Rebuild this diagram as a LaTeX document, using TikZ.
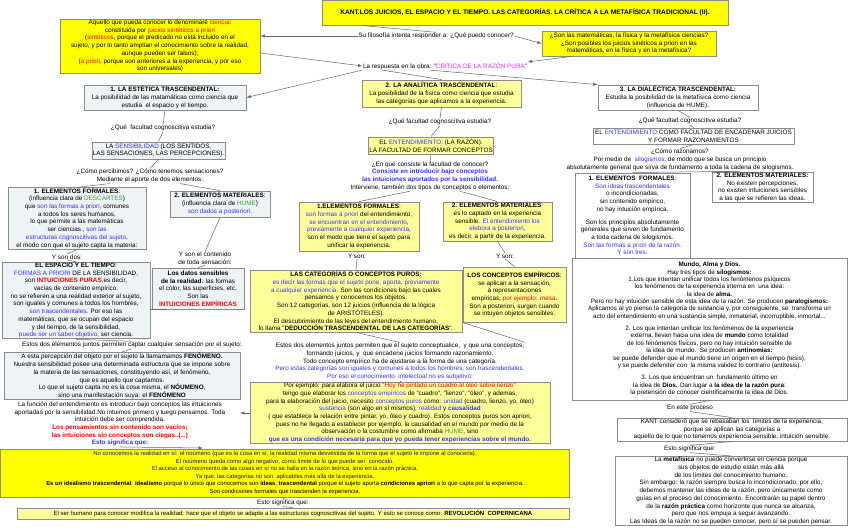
\documentclass[tikz,border=0pt]{standalone}
\usepackage{fontspec}
\setmainfont{Liberation Sans}
\definecolor{myblue}{HTML}{3333FF}
\definecolor{mynavy}{HTML}{1A1A8C}
\definecolor{myred}{HTML}{FF0000}
\definecolor{mygreen}{HTML}{33A033}
\definecolor{mymag}{HTML}{FF22FF}
\definecolor{ltblue}{HTML}{EEF3F6}
\definecolor{pale}{HTML}{FFFF99}
\definecolor{brt}{HTML}{FFFF00}
\newcommand\tb[1]{\textcolor{myblue}{#1}}
\newcommand\tr[1]{\textcolor{myred}{#1}}
\newcommand\tg[1]{\textcolor{mygreen}{#1}}
\newcommand\tm[1]{\textcolor{mymag}{#1}}
\newcommand\ft{\fontsize{6.35}{7.7}\selectfont}
\tikzset{
 box/.style={draw=gray!90, line width=0.9pt, inner sep=0.8pt, align=center, font=\ft},
 bbox/.style={box, fill=ltblue},
 ybox/.style={box, fill=pale},
 Ybox/.style={box, fill=brt},
 wbox/.style={box, fill=white},
 lbl/.style={align=center, inner sep=0.5pt, font=\ft},
 ln/.style={draw=gray!80!black, line width=0.5pt},
 ar/.style={ln, -latex}
}
\begin{document}
\begin{tikzpicture}[x=1pt,y=-1pt]
\useasboundingbox (0,0) rectangle (848,527);
\fill[white] (0,0) rectangle (848,527);

\node[Ybox, minimum width=406, minimum height=25, font=\fontsize{6.6}{8}\selectfont\bfseries] (title) at (525,12.5) {KANT.LOS JUICIOS, EL ESPACIO Y EL TIEMPO. LAS CATEGORÍAS. LA CRÍTICA A LA METAFÍSICA TRADICIONAL (II).};
\node[lbl] (su) at (436,36) {Su filosofía intenta responder a: ¿Qué puedo conocer?};
\node[Ybox, minimum width=200, minimum height=54] (A) at (160,46) {Aquello que pueda conocer lo denominaré \tr{ciencia}:\\ constituida por \tr{juicios sintéticos a priori}\\ (\tr{sintéticos}, porque el predicado no está incluido en el\\ sujeto, y por lo tanto amplían el conocimiento sobre la realidad,\\ aunque pueden ser falsos);\\ (\tr{a priori}, porque son anteriores a la experiencia, y por eso\\ son universales)};
\node[Ybox, minimum width=174, minimum height=25] (Q) at (629,43.5) {¿Son las matemáticas, la física y la metafísica ciencias?\\ ¿Son posibles los juicios sinéticos a priori en las\\ matemáticas, en la física y en la metafísica?};
\node[lbl] (resp) at (445,66) {La respuesta en la obra: "\tm{CRÍTICA DE LA RAZÓN PURA}"};

\node[bbox, minimum width=162, minimum height=25] (E1) at (165,97.5) {\textbf{1. LA ESTÉTICA TRASCENDENTAL:}\\ La posibilidad de las matamáticas como ciencia que\\ estudia\ \ el espacio y el tiempo.};
\node[ybox, minimum width=159, minimum height=27] (E2) at (441.5,93.5) {\textbf{2. LA ANALÍTICA TRASCENDENTAL}:\\ La posibilidad de la física como ciencia que estudia\\ las categorías que aplicamos a la experiencia.};
\node[wbox, minimum width=160, minimum height=25] (E3) at (678,97.5) {\textbf{3. LA DIALÉCTICA TRASCENDENTAL:}\\ Estudia la posibilidad de la metafísica como ciencia\\ (influencia de HUME).};

\node[lbl] (q1) at (163,128) {¿Qué\ \ facultad cognoscitiva estudia?};
\node[lbl] (q2) at (440,122) {¿Qué facultad cognoscitiva estudia?};
\node[lbl] (q3) at (690,121) {¿Qué facultad cognoscitiva estudia?};

\node[bbox, minimum width=133, minimum height=17] (sens) at (158.5,150.5) {LA \tb{SENSIBILIDAD} (LOS SENTIDOS,\\ LAS SENSACIONES, LAS PERCEPCIONES).};
\node[ybox, minimum width=125, minimum height=17] (ent) at (431,145.5) {EL \tb{ENTENDIMIENTO}: (LA RAZÓN).\\ LA FACULTAD DE FORMAR CONCEPTOS};
\node[wbox, minimum width=201, minimum height=16] (ent3) at (693.5,136) {EL \tb{ENTENDIMIENTO} COMO FACULTAD DE ENCADENAR JUICIOS\\ Y FORMAR RAZONAMIENTOS};

\node[lbl] (como) at (150,176) {¿Cómo percibimos? ¿Cómo tenemos sensaciones?\\ Mediante el aporte de dos elementos:};
\node[lbl] (enque) at (430,176) {¿En qué consiste la facultad de conocer?\\ \textcolor{myblue}{\bfseries Consiste en introducir bajo conceptos}\\ \textcolor{myblue}{\bfseries las intuiciones aportados por la sensibilidad.}\\ Interviene, también dos tipos de conceptos o elementos:};
\node[lbl] (razon) at (680,160) {¿Cómo razonamos?\\ Por medio de\ \ \tb{silogismos}, de modo que se busca un principio\\ absolutamente general que sirva de fundamento a toda la cadena de silogismos.};

\node[bbox, minimum width=138, minimum height=59] (LF) at (77,218.5) {\textbf{1. ELEMENTOS FORMALES}:\\ (influencia clara de \tg{DESCARTES})\\ que \tb{son las formas a priori}, comunes\\ a todos los seres humanos,\\ lo que permite a las matemáticas\\ ser ciencias , \tb{son las}\\ \tb{estructuras cognoscitivas del sujeto},\\ el modo con que el sujeto capta la materia:};
\node[bbox, minimum width=100, minimum height=26] (LM) at (220,204) {\textbf{2. ELEMENTOS MATERIALES}:\\ (influencia clara de \tg{HUME})\\ \tb{son dados a posteriori.}};
\node[lbl] (ydos) at (67,257) {Y son dos:};
\node[lbl] (ycont) at (205,258.5) {Y son el contenido\\ de toda sensación:};
\node[bbox, minimum width=148, minimum height=75] (ET) at (76,300.5) {\textbf{EL ESPACIO Y EL TIEMPO}:\\ \tb{FORMAS A PRIORI} DE LA SENSIBILIDAD,\\ son \textcolor{myred}{\bfseries INTUICIONES PURAS},es decir,\\ vacías de contenido empírico.\\ no se refieren a una realidad exterior al sujeto,\\ son iguales y comunes a todos los hombres,\\ \tb{son trascendentales}. Por eso las\\ matemáticas, que se ocupan del espacio\\ y del tiempo, de la sensibilidad,\\ \tb{puede ser un saber objetivo}, ser ciencia.};
\node[bbox, minimum width=92, minimum height=41] (DS) at (198,288.5) {\textbf{Los datos sensibles}\\ \textbf{de la realidad}: las formas\\ el color, las superficies, etc.\\ Son las\\ \textcolor{myred}{\bfseries INTUICIONES EMPÍRICAS}};

\node[ybox, minimum width=120, minimum height=49] (MF) at (359,226.5) {\textbf{1.ELEMENTOS FORMALES}:\\ \tb{son formas a priori} del entendimiento,\\ \tb{se encuentran en el entendimiento},\\ \tb{previamente a cualquier experiencia},\\ son el modo que tiene el sujeto para\\ unificar la experiencia.};
\node[ybox, minimum width=109, minimum height=39] (MM) at (497.5,221.5) {\textbf{2. ELEMENTOS MATERIALES}:\\ es lo captado en la experiencia\\ sensible. \tb{El entendimiento los}\\ \tb{elebora a posteriori},\\ es decir, a partir de la experiencia.};
\node[lbl] (ys1) at (357,256) {Y son:};
\node[lbl] (ys2) at (505,256) {Y son:};
\node[ybox, minimum width=212, minimum height=62] (CAT) at (356,301) {\textbf{LAS CATEGORÍAS O CONCEPTOS PUROS:}\\ \tb{es decir las formas que el sujeto pone, aporta, previamente}\\ \tb{a cualquier experiencia}. Son las condiciones bajo las cuales\\ pensamos y conocemos los objetos.\\ Son 12 categorías, son 12 juicios (influencia de la lógica\\ de ARISTÓTELES).\\ El descubrimiento de las leyes del entendimiento humano,\\ lo llama "\textbf{DEDUCCIÓN TRASCENDENTAL DE LAS CATEGORÍAS}".};
\node[ybox, minimum width=103, minimum height=55] (CE) at (514.5,294.5) {\textbf{LOS CONCEPTOS EMPÍRICOS}:\\ se aplican a la sensación,\\ a representaciones\\ empíricas, \tr{por ejemplo: mesa}.\\ Son a posteriori, surgen cuando\\ se intuyen objetos sensibles.};

\node[wbox, minimum width=115, minimum height=85] (RF) at (632.5,215.5) {\textbf{1. ELEMENTOS\ \ FORMALES}:\\ \tb{Son ideas trascendentales}\\ o incondicionadas,\\ sin contenido empírico,\\ no hay intuición empírica.\\[5pt] Son los principios absolutamente\\ generales que sirven de fundamento\\ a toda cadena de silogismos.\\ \tb{Son las formas a priori de la razón.}\\ \tb{Y son tres:}};
\node[wbox, minimum width=101, minimum height=29] (RM) at (762.5,187.5) {\textbf{2. ELEMENTOS MATERIALES:}\\ No existen percepciones,\\ no existen intuiciones sensibles\\ a las que se refieren las ideas.};
\node[wbox, minimum width=275, minimum height=142, font=\fontsize{6.3}{7.35}\selectfont] (MUN) at (709.5,329) {\textbf{Mundo, Alma y Dios.}\\ Hay tres tipos de \textbf{silogismos:}\\ 1.Los que intentan unificar todos los fenómenos psíquicos\\ los fenómenos de la experiencia interna en\ \ una idea:\\ la idea de \textbf{alma.}\\ Pero no hay intuición sensible de esta idea de la razón. Se producen \textbf{paralogismos:}\\ Aplicamos al yo pienso la categoría de sustancia y, por consiguiente, se\ \ transforma un\\ acto del entendimiento en una sustancia simple, inmaterial, incorruptible, inmortal...\\[5pt] 2. Los que intentan unificar los fenómenos de la experiencia\\ externa, llevan hacia una idea de \textbf{mundo} como totalidad\\ de los fenómenos físicos, pero no hay intuición sensible de\\ la idea de mundo.\ \ Se producen \textbf{antinomias:}\\ se puede defender que el mundo tiene un origen en el tiempo (tesis),\\ y se puede defender con\ \ la misma validez lo contrario (antítesis).\\[5pt] 3. Los que encuentran un\ \ fundamento último en\\ la idea de \textbf{Dios.} Dan lugar a \textbf{la idea de la razón pura}:\\ la pretensión de conocer científicamente la idea de Dios.};
\node[lbl] (proc) at (690,408) {En este proceso};
\node[wbox, minimum width=230, minimum height=23] (KC) at (732,429.5) {KANT consideró que se rebasaban los\ \ límites de la experiencia,\\ porque se aplican las categorías a\\ aquello de lo que no tenemos experiencia sensible, intuición sensible.};
\node[lbl] (sig3) at (690,449) {Esto significa que:};
\node[wbox, minimum width=232, minimum height=68] (MET) at (731,491) {La \textbf{metafísica} no puede convertirse en ciencia porque\\ sus objetos de estudio están más allá\\ de los límites del conocimiento humano.\\ Sin embargo: la razón siempre busca lo incondicionado, por ello,\\ debemos mantener las ideas de la razón, pero únicamente como\\ guías en el proceso del conocimiento. Encontrarán su papel dentro\\ de la \textbf{razón práctica} como horizonte que nunca se alcanza,\\ pero que nos empuja a seguir avanzando.\\ Las Ideas de la razón no se pueden conocer, pero sí se pueden pensar.};

\node[lbl] (est1) at (132,345) {Estos dos elementos juntos permiten captar cualquier sensación por el sujeto:};
\node[bbox, minimum width=236, minimum height=46] (FEN) at (122,376) {A esta percepción del objeto por el sujeto la llamamamos \textbf{FENÓMENO.}\\ Nuestra sensibilidad posee una determinada estructura que se impone sobre\\ la materia de las sensaciones, constituyendo así, el fenómeno,\\ que es aquello que captamos.\\ Lo que el sujeto capta no es la cosa misma, el \textbf{NÓUMENO},\\ sino una manifestación suya: el \textbf{FENÓMENO}};
\node[lbl] (func) at (120,424) {La función del entendimiento es introducir bajo conceptos las intuiciones\\ aportadas por la sensibilidad.No intuimos primero y luego pensamos. Toda\\ intuición debe ser comprendida.\\ \textcolor{myred}{\bfseries Los pensamientos sin contenido son vacíos;}\\ \textcolor{myred}{\bfseries las intuiciones sin conceptos son ciegas..(...)}\\ \textcolor{myblue}{\bfseries Esto significa que:}};
\coordinate (fr) at (240,413);
\coordinate (bt) at (203,448);
\node[lbl] (est2) at (400,361.5) {Estos dos elementos juntos permiten que el sujeto conceptualice,\ \ y que una conceptos,\\ formando juicios, y\ \ que encadene juicios formando razonamiento.\\ Todo concepto empírico ha de ajustarse a la forma de una categoría.\\ \tb{Pero estas categorías son iguales y comunes a todos los hombres, son trascendentales.}\\ \tb{Por eso el conocimiento\ \ intelectual no es subjetivo:}};
\node[ybox, minimum width=300, minimum height=60] (EJ) at (400,413) {Por ejemplo: para elabora el juicio \tr{"Hoy he pintado un cuadro al óleo sobre lienzo"}\\ tengo que elaborar los \tb{conceptos empíricos} de "cuadro", "lienzo", "óleo", y ademas,\\ para la elaboración del juicio, necesito \tb{conceptos puros} como: \tb{unidad} (cuadro, lienzo, yo, óleo)\\ \tb{sustancia} (son algo en sí mismos), \tb{realidad} y \textcolor{myblue}{\bfseries causalidad}\\ ( que establece la relación entre pintar, yo, óleo y cuadro). Estos conceptos puros son apriori,\\ pues no he llegado a establecer por ejemplo, la causalidad en el mundo por medio de la\\ observación o la costumbre como afirmaba \tg{HUME}, sino\\ \textcolor{myblue}{\bfseries que es una condición necesaria para que yo pueda tener experiencias sobre el mundo.}};

\node[Ybox, minimum width=569, minimum height=48, font=\fontsize{5.9}{7.6}\selectfont] (BIG) at (285,473) {\textcolor{mynavy}{No conocemos la realidad en sí: el noúmeno (que es la cosa en sí, la realidad misma desvestida de la forma que el sujeto le impone al conocerla).}\\ \textcolor{mynavy}{El noúmeno queda como algo negativo, como límite de lo que puede ser\ \ conocido.}\\ \textcolor{mynavy}{El acceso al conocimiento de las cosas en sí no se halla en la razón teórica, sino en la razón práctica.}\\ \textcolor{mynavy}{Ya que, las categorías no son\ \ aplicables más allá de la experiencia.}\\ \textbf{Es un idealismo trascendental}: \textbf{idealismo} porque lo único que conocemos son \textbf{ideas}, \textbf{trascendental} porque el sujeto aporta \textbf{condiciones apriori} a lo que capta por la experiencia.\\ Son condiciones formales que trascienden la experiencia.};
\node[lbl] (sig4) at (283,503) {Esto significa que:};
\node[ybox, minimum width=552, minimum height=11, font=\fontsize{6}{7}\selectfont] (REV) at (293,513.5) {El ser humano para conocer modifica la realidad: hace que el objeto se adapte a las estructuras cognoscitivas del sujeto. Y esto se conoce como: \textbf{REVOLUCIÓN\ \ COPERNICANA}};

% connectors
\draw[ln] (title.south west)++(40,0) -- (su.north);
\draw[ar] (su.west) -- (A.east|-su.west);
\draw[ar] (su.east) -- (Q.west);
\draw[ar] (A.east) ++(0,7) -- (resp.west);
\draw[ar] (Q.south west)++(30,0) -- (resp.north east);
\draw[ar] (resp.south west) -- (E1.east);
\draw[ln] (resp.south west)++(20,0) -- (E2.north);
\draw[ar] (resp.south) ++(-15,0) -- (E3.north west);
\draw[ln] (E1.south) -- (q1.north);
\draw[ln] (q1.south) -- (sens.north);
\draw[ln] (E2.south) -- (q2.north);
\draw[ln] (q2.south) -- (ent.north);
\draw[ln] (E3.south) -- (q3.north);
\draw[ln] (q3.south) -- (ent3.north);
\draw[ln] (sens.south) -- (como.north);
\draw[ln] (ent.south) -- (enque.north);
\draw[ln] (ent3.south) -- (razon.north);
\draw[ln] (como.south) ++(-40,0) -- (LF.north);
\draw[ln] (como.south) ++(30,0) -- (LM.north);
\draw[ln] (enque.south) ++(-20,0) -- (MF.north);
\draw[ln] (enque.south) ++(30,0) -- (MM.north);
\draw[ln] (razon.south) ++(50,0) -- (RF.north);
\draw[ln] (razon.south) ++(60,0) -- (RM.north west);
\draw[ln] (LF.south) -- (ydos.north);
\draw[ln] (ydos.south) -- (ET.north);
\draw[ln] (LM.south) -- (ycont.north);
\draw[ln] (ycont.south) -- (DS.north);
\draw[ln] (DS.south west) ++(15,0) -- (ET.east|-DS.south west);
\draw[ln] (MF.south) -- (ys1.north);
\draw[ln] (ys1.south) -- (CAT.north);
\draw[ln] (MM.south) -- (ys2.north);
\draw[ln] (ys2.south) -- (CE.north);
\draw[ln] (RF.south) -- (MUN.north-|RF.south);
\draw[ln] (ET.south) -- (est1.north);
\draw[ln] (est1.south) -- (FEN.north);
\draw[ln] (CAT.south) -- (est2.north);
\draw[ln] (CE.south west) -- (est2.north east);
\draw[ln] (est2.south) -- (EJ.north);
\draw[ar] (EJ.west) -- (fr);
\draw[ar] (func.south) -- (bt);
\draw[ln] (MUN.south) -- (proc.north);
\draw[ln] (proc.south) -- (KC.north);
\draw[ln] (KC.south) -- (sig3.north);
\draw[ln] (sig3.south) -- (MET.north);
\draw[ln] (BIG.south) -- (sig4.north);
\draw[ln] (sig4.south) -- (REV.north);
\end{tikzpicture}
\end{document}
